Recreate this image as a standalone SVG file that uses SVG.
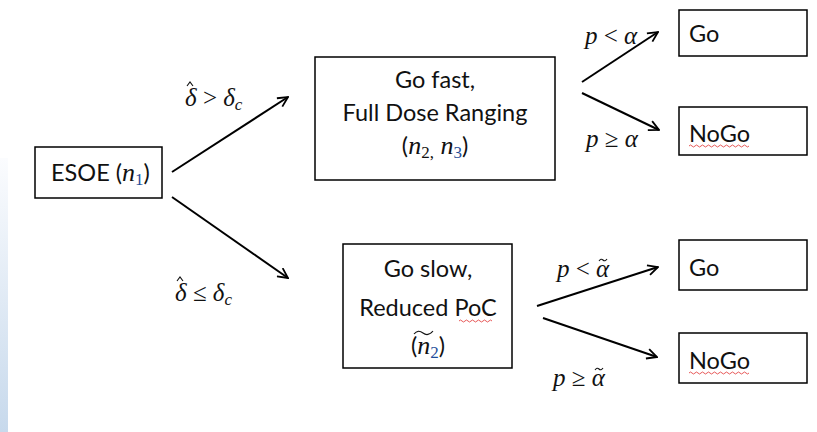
<svg xmlns="http://www.w3.org/2000/svg" width="817" height="432" viewBox="0 0 817 432">
<style>
.box{fill:#fff;stroke:#000;stroke-width:1.5}
.t{font-family:Lato,"Open Sans",sans-serif;font-size:23.5px;fill:#111}
.m{font-family:"Liberation Serif",serif;font-size:25px;fill:#111}
.bm{font-family:"Liberation Serif",serif;font-size:26px}
.i{font-style:italic}
.sub{font-size:17px}
.c{stroke:#000;stroke-width:2;fill:none}
.sq{stroke:#e03030;stroke-width:0.8;fill:none}
.acc{fill:none;stroke:#111;stroke-width:1.1}
</style>
<defs>
<linearGradient id="g" x1="0" y1="0" x2="0" y2="1">
<stop offset="0" stop-color="#fbfcfe"/>
<stop offset="1" stop-color="#c7d9ec"/>
</linearGradient>
<marker id="a" viewBox="0 0 12 12" refX="11" refY="6" markerWidth="12" markerHeight="12" markerUnits="userSpaceOnUse" orient="auto">
<path d="M1,1 L11,6 L1,11" fill="none" stroke="#000" stroke-width="1.8"/>
</marker>
</defs>
<rect x="0" y="158" width="8" height="274" fill="url(#g)"/>

<g id="connectors">
<line class="c" x1="172" y1="172" x2="288" y2="97" marker-end="url(#a)"/>
<line class="c" x1="172" y1="197" x2="288" y2="278" marker-end="url(#a)"/>
<line class="c" x1="582" y1="82" x2="658" y2="32" marker-end="url(#a)"/>
<line class="c" x1="582" y1="93" x2="659" y2="130" marker-end="url(#a)"/>
<line class="c" x1="537" y1="306" x2="658" y2="267" marker-end="url(#a)"/>
<line class="c" x1="543" y1="318" x2="657" y2="357" marker-end="url(#a)"/>
<text class="m" x="185" y="106"><tspan class="i">δ</tspan> &gt; <tspan class="i">δ</tspan><tspan class="i sub" dy="4">c</tspan></text>
<path class="acc" d="M187,86 l3,-4 l3,4"/>
<text class="m" x="175" y="301"><tspan class="i">δ</tspan> ≤ <tspan class="i">δ</tspan><tspan class="i sub" dy="4">c</tspan></text>
<path class="acc" d="M177,281 l3,-4 l3,4"/>
<text class="m" x="585" y="44"><tspan class="i">p</tspan> &lt; <tspan class="i">α</tspan></text>
<text class="m" x="586" y="147"><tspan class="i">p</tspan> ≥ <tspan class="i">α</tspan></text>
<text class="m" x="557" y="277"><tspan class="i">p</tspan> &lt; <tspan class="i">α</tspan></text>
<path class="acc" d="M599,261 q2,-3 4,-1 q2,2 4,-1"/>
<text class="m" x="553" y="386"><tspan class="i">p</tspan> ≥ <tspan class="i">α</tspan></text>
<path class="acc" d="M595,370 q2,-3 4,-1 q2,2 4,-1"/>
</g>

<g id="esoe">
<rect class="box" x="35" y="147" width="127" height="51"/>
<text class="t" x="51" y="181">ESOE (<tspan class="bm i">n</tspan><tspan class="bm sub" dy="4" fill="#1f4e9a">1</tspan><tspan dy="-4">)</tspan></text>
</g>

<g id="fast">
<rect class="box" x="315" y="57" width="240" height="123"/>
<text class="t" x="435" y="88" text-anchor="middle">Go fast,</text>
<text class="t" x="435" y="121" text-anchor="middle">Full Dose Ranging</text>
<text class="t" x="435" y="154" text-anchor="middle">(<tspan class="bm i">n</tspan><tspan class="bm sub" dy="4">2,</tspan><tspan class="bm i" dy="-4"> n</tspan><tspan class="bm sub" dy="4" fill="#1f4e9a">3</tspan><tspan dy="-4">)</tspan></text>
</g>

<g id="slow">
<rect class="box" x="343" y="244" width="169" height="124"/>
<text class="t" x="428" y="277" text-anchor="middle">Go slow,</text>
<text class="t" x="428" y="316" text-anchor="middle">Reduced PoC</text>
<path class="sq" d="M459,321 q1.5,-2 3,0 t3,0 t3,0 t3,0 t3,0 t3,0 t3,0 t3,0 t3,0 t3,0 t3,0"/>
<text class="t" x="428" y="354" text-anchor="middle">(<tspan class="bm i">n</tspan><tspan class="bm sub" dy="4" fill="#1f4e9a">2</tspan><tspan dy="-4">)</tspan></text>
<path class="acc" d="M414,334 q4,-5 9,-1 q5,4 10,-2"/>
</g>

<g id="go1">
<rect class="box" x="679" y="10" width="128" height="46"/>
<text class="t" x="689" y="42">Go</text>
</g>
<g id="nogo1">
<rect class="box" x="679" y="107" width="128" height="48"/>
<text class="t" x="689" y="142">NoGo</text>
<path class="sq" d="M689,146 q1.5,-2 3,0 t3,0 t3,0 t3,0 t3,0 t3,0 t3,0 t3,0 t3,0 t3,0 t3,0 t3,0 t3,0 t3,0 t3,0 t3,0 t3,0 t3,0 t3,0 t3,0"/>
</g>
<g id="go2">
<rect class="box" x="679" y="240" width="128" height="50"/>
<text class="t" x="689" y="276">Go</text>
</g>
<g id="nogo2">
<rect class="box" x="679" y="333" width="128" height="50"/>
<text class="t" x="689" y="369">NoGo</text>
<path class="sq" d="M689,373 q1.5,-2 3,0 t3,0 t3,0 t3,0 t3,0 t3,0 t3,0 t3,0 t3,0 t3,0 t3,0 t3,0 t3,0 t3,0 t3,0 t3,0 t3,0 t3,0 t3,0 t3,0"/>
</g>
</svg>
